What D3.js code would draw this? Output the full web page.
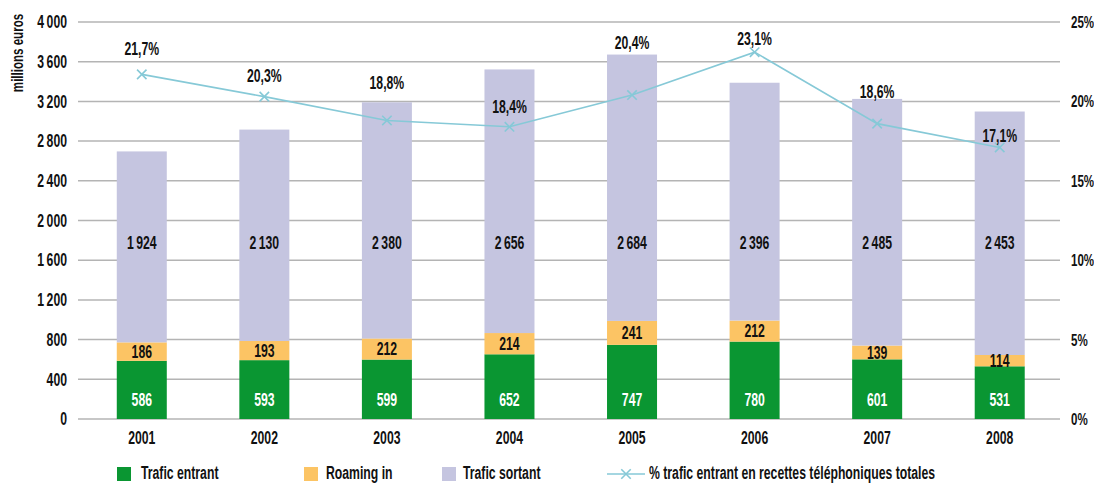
<!DOCTYPE html>
<html>
<head>
<meta charset="utf-8">
<script src="https://cdn.jsdelivr.net/npm/d3@7"></script>
<style>
  html, body { margin: 0; padding: 0; background: #fff; }
  svg text { font-family: 'Liberation Sans', Arial, sans-serif; font-weight: bold; fill: #111; }
</style>
</head>
<body>
<svg id="chart" width="1094" height="483"></svg>
<script>
// Revenue from international telephony, millions of euros
const years = ["2001", "2002", "2003", "2004", "2005", "2006", "2007", "2008"];
const traficEntrant = [586, 593, 599, 652, 747, 780, 601, 531];
const roamingIn = [186, 193, 212, 214, 241, 212, 139, 114];
const traficSortant = [1924, 2130, 2380, 2656, 2684, 2396, 2485, 2453];
const partEntrant = [21.7, 20.3, 18.8, 18.4, 20.4, 23.1, 18.6, 17.1];
const leftTicks = [0, 400, 800, 1200, 1600, 2000, 2400, 2800, 3200, 3600, 4000];
const rightTicks = [0, 5, 10, 15, 20, 25];

// vertical offset of each percentage label from its point (px)
const pctLabelOffset = [-26, -21, -38, -20, -52, -13, -32, -12];

const colors = { entrant: "#0a9632", roaming: "#fcc464", sortant: "#c5c5e0", line: "#86c9d7", grid: "#b4b4b4" };

// horizontal squeeze applied to all labels to get a condensed face
const SQUEEZE = 0.68;
const FS = "18px";

const fr = d3.formatLocale({ decimal: ",", thousands: "\u2009", grouping: [3], currency: ["", " €"] });
const fmtInt = fr.format(",d");
const fmtPct = v => fr.format(".1f")(v) + "%";

// move x/y of a text into a transform so it can be squeezed in place
function condense(sel) {
  sel.each(function () {
    const t = d3.select(this);
    const tx = +t.attr("x") || 0, ty = +t.attr("y") || 0;
    const prev = t.attr("transform") || "";
    t.attr("x", 0).attr("y", 0)
     .attr("transform", `${prev} translate(${tx},${ty}) scale(${SQUEEZE},1)`);
  });
}

const svg = d3.select("#chart");
const plot = { left: 78, right: 1060, top: 22, bottom: 419 };

const x = d3.scaleBand().domain(years).range([80.5, 1061]).paddingInner(0.592).paddingOuter(0.296);
const y = d3.scaleLinear().domain([0, 4000]).range([plot.bottom, plot.top]);
const y2 = d3.scaleLinear().domain([0, 25]).range([plot.bottom, plot.top]);

// horizontal grid
svg.append("g").selectAll("line").data(leftTicks).join("line")
  .attr("x1", plot.left).attr("x2", plot.right)
  .attr("y1", d => y(d)).attr("y2", d => y(d))
  .attr("stroke", colors.grid).attr("stroke-width", 1.5);

// left axis labels
const leftAxis = svg.append("g").attr("transform", `translate(${plot.left},0)`)
  .call(d3.axisLeft(y).tickValues(leftTicks).tickFormat(fmtInt).tickSize(0).tickPadding(11));
leftAxis.select(".domain").remove();
leftAxis.attr("font-family", null).attr("font-size", null);
leftAxis.selectAll("text").style("font-size", FS).call(condense);

// right axis labels
const rightAxis = svg.append("g").attr("transform", `translate(${plot.right},0)`)
  .call(d3.axisRight(y2).tickValues(rightTicks).tickFormat(d => d + "%").tickSize(0).tickPadding(11));
rightAxis.select(".domain").remove();
rightAxis.attr("font-family", null).attr("font-size", null);
rightAxis.selectAll("text").style("font-size", "17px").call(condense);

// axis title
svg.append("text")
  .attr("transform", "translate(23,53) rotate(-90) scale(" + SQUEEZE + ",1)")
  .attr("text-anchor", "middle")
  .style("font-size", "17px")
  .text("millions euros");

// stacked bars
const rows = years.map((yr, i) => ({ year: yr, entrant: traficEntrant[i], roaming: roamingIn[i], sortant: traficSortant[i] }));
const keys = ["entrant", "roaming", "sortant"];
const stacked = d3.stack().keys(keys)(rows);

svg.append("g").selectAll("g").data(stacked).join("g")
  .attr("fill", d => colors[d.key])
  .selectAll("rect").data(d => d).join("rect")
  .attr("x", d => x(d.data.year))
  .attr("width", x.bandwidth())
  .attr("y", d => y(d[1]))
  .attr("height", d => y(d[0]) - y(d[1]));

// segment values
const cx = yr => x(yr) + x.bandwidth() / 2;
const valG = svg.append("g").attr("text-anchor", "middle").style("font-size", FS);
valG.selectAll("text.ent").data(stacked[0]).join("text").attr("class", "ent")
  .attr("x", d => cx(d.data.year)).attr("y", y(190)).attr("dy", "0.35em")
  .style("fill", "#fff").text(d => fmtInt(d.data.entrant));
valG.selectAll("text.roa").data(stacked[1]).join("text").attr("class", "roa")
  .attr("x", d => cx(d.data.year)).attr("y", d => y((d[0] + d[1]) / 2)).attr("dy", "0.35em")
  .text(d => fmtInt(d.data.roaming));
valG.selectAll("text.sor").data(stacked[2]).join("text").attr("class", "sor")
  .attr("x", d => cx(d.data.year)).attr("y", y(1780)).attr("dy", "0.35em")
  .text(d => fmtInt(d.data.sortant));
valG.selectAll("text").call(condense);

// year labels
svg.append("g").attr("text-anchor", "middle").style("font-size", FS)
  .selectAll("text").data(years).join("text")
  .attr("x", d => cx(d)).attr("y", 438).attr("dy", "0.35em").text(d => d)
  .call(condense);

// percentage line
const line = d3.line().x((d, i) => cx(years[i])).y(d => y2(d));
svg.append("path").datum(partEntrant)
  .attr("d", line).attr("fill", "none")
  .attr("stroke", colors.line).attr("stroke-width", 1.6);

const cross = d3.symbol().type(d3.symbolX).size(60);
svg.append("g").selectAll("path").data(partEntrant).join("path")
  .attr("transform", (d, i) => `translate(${cx(years[i])},${y2(d)})`)
  .attr("d", cross).attr("fill", "none")
  .attr("stroke", colors.line).attr("stroke-width", 1.6);

svg.append("g").attr("text-anchor", "middle").style("font-size", FS)
  .selectAll("text").data(partEntrant).join("text")
  .attr("x", (d, i) => cx(years[i]))
  .attr("y", (d, i) => y2(d) + pctLabelOffset[i])
  .attr("dy", "0.35em")
  .text(d => fmtPct(d))
  .call(condense);

// legend
const legendY = 473;
const legend = svg.append("g").style("font-size", FS);
const items = [
  { label: "Trafic entrant", color: colors.entrant, x: 117, tx: 141 },
  { label: "Roaming in", color: colors.roaming, x: 304, tx: 326 },
  { label: "Trafic sortant", color: colors.sortant, x: 442, tx: 463 }
];
items.forEach(it => {
  legend.append("rect").attr("x", it.x).attr("y", legendY - 6).attr("width", 14).attr("height", 14).attr("fill", it.color);
  legend.append("text").attr("x", it.tx).attr("y", legendY).attr("dy", "0.35em").text(it.label);
});
legend.append("line").attr("x1", 607).attr("x2", 645).attr("y1", legendY + 1).attr("y2", legendY + 1)
  .attr("stroke", colors.line).attr("stroke-width", 1.6);
legend.append("path").attr("transform", `translate(626,${legendY + 1})`).attr("d", cross)
  .attr("fill", "none").attr("stroke", colors.line).attr("stroke-width", 1.6);
legend.append("text").attr("x", 649).attr("y", legendY).attr("dy", "0.35em")
  .text("% trafic entrant en recettes téléphoniques totales");
legend.selectAll("text").call(condense);
</script>
</body>
</html>
